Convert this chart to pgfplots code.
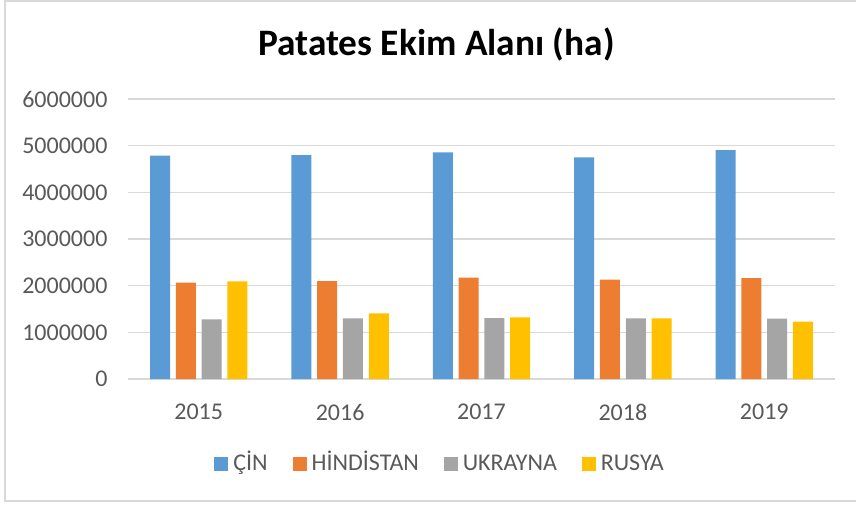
\documentclass[border=0pt]{standalone}
\usepackage{fontspec}
\setmainfont{Carlito}
\usepackage{pgfplots}
\pgfplotsset{compat=1.18}
\definecolor{cBlue}{HTML}{5B9BD5}
\definecolor{cOrange}{HTML}{ED7D31}
\definecolor{cGray}{HTML}{A5A5A5}
\definecolor{cYellow}{HTML}{FFC000}
\definecolor{cGrid}{HTML}{D9D9D9}
\definecolor{cText}{HTML}{595959}
\pgfplotsset{sq legend/.style={legend image code/.code={\fill[##1] (0pt,-2.625pt) rectangle (5.25pt,2.625pt); \path (7.15pt,0pt);}}}
\begin{document}
\begin{tikzpicture}
\path[use as bounding box] (0pt,0pt) rectangle (321pt,189.375pt);
\draw[cGrid, line width=0.6pt] (1.875pt,1.5pt) rectangle (330pt,189pt);
\node[anchor=base, font=\fontsize{14}{16.8}\selectfont\bfseries, text=black, inner sep=0pt] at (163.7pt,168.6pt) {Patates Ekim Alanı (ha)};
\begin{axis}[
  at={(48pt,47.25pt)}, anchor=south west,
  scale only axis, width=265.1pt, height=105pt,
  ybar=2.17pt, bar width=7.5pt,
  xmin=-0.5, xmax=4.5, ymin=0, ymax=6000000,
  xtick={0,1,2,3,4}, xticklabels={2015,2016,2017,2018,2019},
  ytick={0,1000000,2000000,3000000,4000000,5000000,6000000},
  scaled y ticks=false,
  /pgf/number format/assume math mode=true,
  yticklabel style={/pgf/number format/fixed, /pgf/number format/1000 sep={}, inner sep=0pt, anchor=east, xshift=-7.5pt, text=cText, font=\fontsize{9}{10.8}\selectfont},
  xticklabel style={inner sep=0pt, anchor=north, yshift=-5pt, text=cText, font=\fontsize{9}{10.8}\selectfont},
  tick style={draw=none},
  ymajorgrids, grid style={cGrid, line width=0.55pt},
  axis x line*=bottom, axis y line*=left,
  x axis line style={cGrid, line width=0.55pt, -},
  y axis line style={draw=none, -},
  legend columns=-1,
  legend style={at={(axis description cs:0.1221,-0.3036)}, anchor=west, draw=none, fill=none, inner sep=0pt, outer sep=0pt,
    nodes={inner sep=0pt, text=cText, font=\fontsize{9}{10.8}\selectfont, text height=6.4pt, text depth=1.6pt},
    /tikz/every even column/.append style={column sep=9.3pt}},
]
\addplot[draw=none, fill=cBlue, sq legend] coordinates {(0,4786000) (1,4800000) (2,4857000) (3,4750000) (4,4907000)};
\addplot[draw=none, fill=cOrange, sq legend] coordinates {(0,2064000) (1,2100000) (2,2171000) (3,2129000) (4,2164000)};
\addplot[draw=none, fill=cGray, sq legend] coordinates {(0,1279000) (1,1300000) (2,1307000) (3,1300000) (4,1293000)};
\addplot[draw=none, fill=cYellow, sq legend] coordinates {(0,2093000) (1,1407000) (2,1321000) (3,1300000) (4,1229000)};
\legend{ÇİN, HİNDİSTAN, UKRAYNA, RUSYA}
\end{axis}
\end{tikzpicture}
\end{document}
